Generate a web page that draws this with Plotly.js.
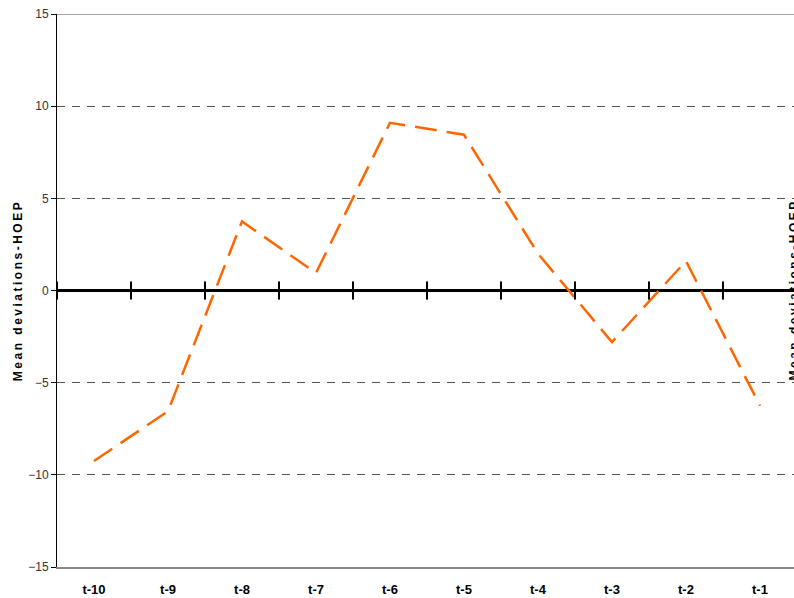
<!DOCTYPE html>
<html>
<head>
<meta charset="utf-8">
<script src="https://cdn.plot.ly/plotly-3.0.1.min.js"></script>
<style>
html,body{margin:0;padding:0;background:#fff;}
#chart{width:794px;height:598px;}
.ytitle{letter-spacing:2.5px;}
.annotation-text{letter-spacing:2.5px;}
</style>
</head>
<body>
<div id="chart"></div>
<script>
const categories = ["t-10","t-9","t-8","t-7","t-6","t-5","t-4","t-3","t-2","t-1"];
const meanDeviations = [-9.25, -6.55, 3.75, 0.95, 9.1, 8.45, 2.0, -2.8, 1.6, -6.25];
const yTickVals = [-15, -10, -5, 0, 5, 10, 15];
const yTitle = "Mean deviations-HOEP";

const n = categories.length;
const boundaries = [];
for (let i = 0; i <= n; i++) boundaries.push(i - 0.5);
const xRange = [-0.5, n - 0.54];

const traces = [
  {
    type: "scatter",
    mode: "lines",
    x: categories,
    y: meanDeviations,
    line: {color: "#FF6600", width: 2.5, dash: "22px,10px"},
    hoverinfo: "skip",
    showlegend: false
  },
  {
    type: "scatter",
    mode: "markers",
    x: boundaries,
    y: boundaries.map(() => 0),
    xaxis: "x2",
    marker: {symbol: "line-ns", size: 13, line: {color: "#000", width: 2}},
    hoverinfo: "skip",
    showlegend: false,
    cliponaxis: false
  }
];

const layout = {
  width: 794,
  height: 598,
  margin: {l: 57, r: 0, t: 14, b: 31},
  paper_bgcolor: "#fff",
  plot_bgcolor: "#fff",
  showlegend: false,
  xaxis: {
    type: "category",
    range: xRange,
    showgrid: false,
    zeroline: false,
    showline: true,
    linecolor: "#8a8a8a",
    linewidth: 1.5,
    ticks: "",
    tickfont: {family: "Liberation Sans Narrow, Arial Narrow, sans-serif", size: 13, color: "#000", weight: "bold"},
    tickangle: 0,
    ticklabelstandoff: 10
  },
  xaxis2: {
    overlaying: "x",
    range: xRange,
    visible: false,
    showgrid: false,
    zeroline: false
  },
  yaxis: {
    range: [-15, 15],
    tickvals: yTickVals,
    showgrid: true,
    gridcolor: "#555",
    gridwidth: 1,
    griddash: "8px,7px",
    zeroline: true,
    zerolinecolor: "#000",
    zerolinewidth: 3,
    showline: true,
    linecolor: "#000",
    linewidth: 1,
    ticks: "outside",
    ticklen: 5,
    tickcolor: "#000",
    tickfont: {family: "Liberation Sans, Arial, sans-serif", size: 12, color: "#333"},
    title: {text: yTitle, font: {family: "Liberation Sans, Arial, sans-serif", size: 12, color: "#000", weight: "bold"}, standoff: 3}
  },
  shapes: [
    {type: "line", xref: "paper", yref: "y", x0: 0, x1: 1, y0: 15, y1: 15, line: {color: "#8a8a8a", width: 1.5}}
  ],
  annotations: [
    {
      xref: "paper", yref: "paper", x: 1, y: 0.5, xshift: -1,
      text: yTitle,
      showarrow: false, textangle: -90,
      xanchor: "center", yanchor: "middle",
      font: {family: "Liberation Sans, Arial, sans-serif", size: 12, color: "#000", weight: "bold"}
    }
  ]
};

Plotly.newPlot("chart", traces, layout, {displayModeBar: false, staticPlot: true});
</script>
</body>
</html>
